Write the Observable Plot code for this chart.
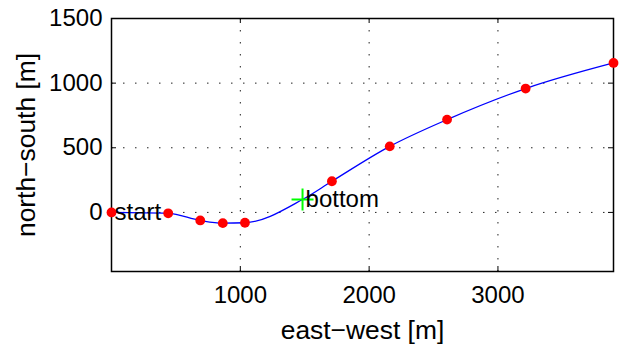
<!DOCTYPE html>
<html>
<head>
<meta charset="utf-8">
<script src="https://cdn.jsdelivr.net/npm/d3@7"></script>
<script src="https://cdn.jsdelivr.net/npm/@observablehq/plot@0.6"></script>
<style>
  html, body { margin: 0; padding: 0; background: #fff; }
</style>
</head>
<body>
<div id="chart"></div>
<script>
// waypoints (red dots)
const dotX = [0, 440, 689, 864, 1036, 1711, 2160, 2605, 3215, 3897];
const dotY = [0, -7, -62, -83, -80, 241, 511, 718, 958, 1156];
// smooth track (blue line)
const trackX = [0, 440, 689, 864, 1036, 1483, 1711, 2160, 2605, 3215, 3897];
const trackY = [0, -7, -62, -83, -80, 100, 241, 511, 718, 958, 1156];
// annotations
const markX = [0, 1483];
const markY = [0, 100];
const markLabel = ["start", "bottom"];
// axes
const xDomain = [0, 3897];
const yDomain = [-457, 1500];
const xTicks = [1000, 2000, 3000];
const yTicks = [0, 500, 1000, 1500];
const xLabel = "east\u2212west [m]";
const yLabel = "north\u2212south [m]";

const W = 623, H = 345;
const mL = 111, mR = 10, mT = 18, mB = 74;
const pw = W - mL - mR, ph = H - mT - mB;

const dots = dotX.map((x, i) => ({x, y: dotY[i]}));
const track = trackX.map((x, i) => ({x, y: trackY[i]}));
const marks = markX.map((x, i) => ({x, y: markY[i], label: markLabel[i]}));

const plusSymbol = {
  draw(ctx, size) {
    const r = Math.sqrt(size / Math.PI);
    ctx.moveTo(-r, 0); ctx.lineTo(r, 0);
    ctx.moveTo(0, -r); ctx.lineTo(0, r);
  }
};

const grid = {stroke: "#222", strokeOpacity: 1, strokeWidth: 1, strokeDasharray: "1.5,10.5"};

const chart = Plot.plot({
  width: W,
  height: H,
  marginLeft: mL,
  marginRight: mR,
  marginTop: mT,
  marginBottom: mB,
  style: {fontFamily: "'Liberation Sans', Arial, Helvetica, sans-serif", fontSize: "24px", color: "black", background: "white"},
  x: {domain: xDomain, ticks: xTicks, tickFormat: "d", tickSize: 0, tickPadding: 14, label: null},
  y: {domain: yDomain, ticks: yTicks, tickFormat: "d", tickSize: 0, tickPadding: 9, label: null},
  marks: [
    Plot.ruleX(xTicks, {...grid}),
    Plot.ruleY(yTicks, {...grid}),
    // inward ticks on all four sides
    Plot.ruleX(xTicks, {stroke: "black", insetTop: ph - 5}),
    Plot.ruleX(xTicks, {stroke: "black", insetBottom: ph - 5}),
    Plot.ruleY(yTicks, {stroke: "black", insetRight: pw - 5}),
    Plot.ruleY(yTicks, {stroke: "black", insetLeft: pw - 5}),
    Plot.frame({stroke: "black", strokeWidth: 1.5}),
    Plot.line(track, {x: "x", y: "y", curve: "monotone-x", stroke: "#0000ff", strokeWidth: 1.3}),
    Plot.dot(dots, {x: "x", y: "y", r: 4.9, fill: "#ff0000", stroke: "none"}),
    Plot.dot(marks.slice(1), {x: "x", y: "y", symbol: plusSymbol, r: 11, stroke: "#00ff00", fill: "none", strokeWidth: 2}),
    Plot.text(marks, {x: "x", y: "y", text: "label", textAnchor: "start", lineAnchor: "middle", dx: 3, fontSize: 24, fill: "black"}),
    Plot.text([xLabel], {frameAnchor: "bottom", dy: 59, textAnchor: "middle", lineAnchor: "middle", fontSize: 26.4, fill: "black"}),
    Plot.text([yLabel], {frameAnchor: "left", dx: -85, rotate: -90, textAnchor: "middle", lineAnchor: "middle", fontSize: 26.4, fill: "black"})
  ]
});
document.getElementById("chart").appendChild(chart);
</script>
</body>
</html>
